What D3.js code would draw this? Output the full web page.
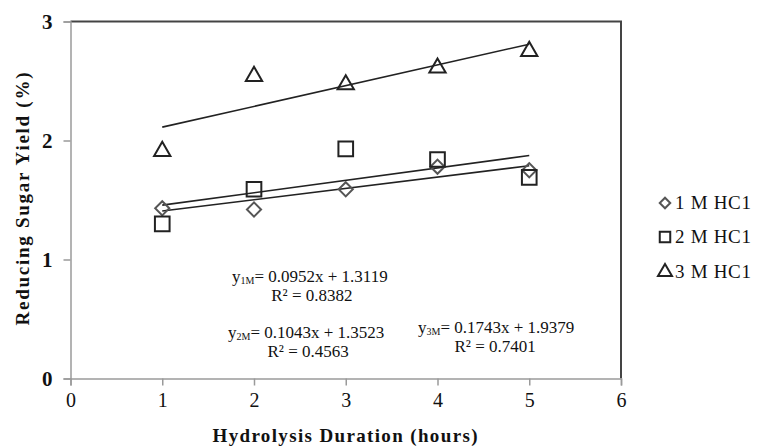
<!DOCTYPE html>
<html>
<head>
<meta charset="utf-8">
<script src="https://cdn.jsdelivr.net/npm/d3@7"></script>
<style>
  body { margin: 0; background: #fff; }
  svg text { font-family: "Times New Roman", "Liberation Serif", serif; }
</style>
</head>
<body>
<div id="chart"></div>
<script>
var hours = [1, 2, 3, 4, 5]
var yield1M = [1.43, 1.42, 1.59, 1.78, 1.75]
var yield2M = [1.30, 1.59, 1.93, 1.84, 1.69]
var yield3M = [1.91, 2.54, 2.47, 2.61, 2.75]
var seriesNames = ['1 M HC1', '2 M HC1', '3 M HC1']
var slopes = [0.0952, 0.1043, 0.1743]
var intercepts = [1.3119, 1.3523, 1.9379]
var rSquared = ['0.8382', '0.4563', '0.7401']
var xTicks = [0, 1, 2, 3, 4, 5, 6]
var yTicks = [0, 1, 2, 3]

var W = 757, H = 446
var svg = d3.select('#chart').append('svg').attr('width', W).attr('height', H)

var x = d3.scaleLinear().domain([0, 6]).range([70.5, 621])
var y = d3.scaleLinear().domain([0, 3]).range([378.5, 21.5])

// frame: top + right are dark, axes are grey
svg.append('path')
  .attr('d', `M${x(0)},${y(3)}H${x(6)}V${y(0)}`)
  .attr('fill', 'none').attr('stroke', '#444').attr('stroke-width', 2)

var xAxis = svg.append('g').attr('transform', `translate(0,${y(0)})`)
  .call(d3.axisBottom(x).tickValues(xTicks).tickSize(7).tickPadding(7).tickFormat(d3.format('d')))
var yAxis = svg.append('g').attr('transform', `translate(${x(0)},0)`)
  .call(d3.axisLeft(y).tickValues(yTicks).tickSize(7).tickPadding(11).tickFormat(d3.format('d')))

svg.selectAll('.domain, .tick line').attr('stroke', '#9a9a9a').attr('stroke-width', 1.5)
xAxis.selectAll('text').attr('font-size', 20).attr('fill', '#111')
yAxis.selectAll('text').attr('font-size', 21).attr('font-weight', 'bold').attr('fill', '#111')

// axis titles
svg.append('text')
  .attr('x', 345).attr('y', 442)
  .attr('text-anchor', 'middle').attr('font-size', 19).attr('font-weight', 'bold')
  .attr('textLength', 265).attr('lengthAdjust', 'spacing').attr('fill', '#111')
  .text('Hydrolysis Duration (hours)')

svg.append('text')
  .attr('transform', 'translate(29,199) rotate(-90)')
  .attr('text-anchor', 'middle').attr('font-size', 19).attr('font-weight', 'bold')
  .attr('textLength', 253).attr('lengthAdjust', 'spacing').attr('fill', '#111')
  .text('Reducing Sugar Yield (%)')

// trendlines
var lineG = svg.append('g')
slopes.forEach(function(m, i){
  var b = intercepts[i]
  lineG.append('line')
    .attr('x1', x(1)).attr('y1', y(m * 1 + b))
    .attr('x2', x(5)).attr('y2', y(m * 5 + b))
    .attr('stroke', '#222').attr('stroke-width', 1.6)
})

// markers
var shapes = [
  {type: d3.symbolSquare, size: 100, rot: 45, color: '#555'},
  {type: d3.symbolSquare, size: 215, rot: 0, color: '#222'},
  {type: d3.symbolTriangle, size: 115, rot: 0, color: '#222'}
]
var allSeries = [yield1M, yield2M, yield3M]

allSeries.forEach(function(vals, i){
  var s = shapes[i]
  svg.append('g').selectAll('path')
    .data(vals.map((v, j) => ({x: hours[j], y: v})))
    .join('path')
    .attr('d', d3.symbol().type(s.type).size(s.size))
    .attr('transform', d => `translate(${x(d.x)},${y(d.y)}) rotate(${s.rot})`)
    .attr('fill', 'none').attr('stroke', s.color).attr('stroke-width', 2)
})

// legend
var legendY = [203, 237, 272]
var leg = svg.append('g').selectAll('g').data(seriesNames).join('g')
  .attr('transform', (d, i) => `translate(665,${legendY[i]})`)
leg.append('path')
  .attr('d', (d, i) => d3.symbol().type(shapes[i].type).size(i == 0 ? 55 : i == 1 ? 110 : 85)())
  .attr('transform', (d, i) => `rotate(${shapes[i].rot})`)
  .attr('fill', 'none').attr('stroke', (d, i) => shapes[i].color).attr('stroke-width', 2)
leg.append('text')
  .attr('x', 10).attr('y', 6)
  .attr('font-size', 19).attr('fill', '#111')
  .attr('textLength', 76).attr('lengthAdjust', 'spacing')
  .text(d => d)

// regression equations
var eqPos = [[232, 282], [228, 338], [418, 333]]
var subs = ['1M', '2M', '3M']
slopes.forEach(function(m, i){
  var p = eqPos[i]
  var t = svg.append('text').attr('x', p[0]).attr('y', p[1])
    .attr('font-size', 17).attr('fill', '#111')
  t.append('tspan').text('y')
  t.append('tspan').attr('font-size', 10).attr('dy', 2).text(subs[i])
  t.append('tspan').attr('dy', -2).text('= ' + m.toFixed(4) + 'x + ' + intercepts[i].toFixed(4))
  var bb = t.node().getBBox()
  svg.append('text')
    .attr('x', bb.x + bb.width / 2 + (i == 2 ? -1 : 2)).attr('y', p[1] + 19)
    .attr('text-anchor', 'middle').attr('font-size', 17).attr('fill', '#111')
    .text('R² = ' + rSquared[i])
})
</script>
</body>
</html>
